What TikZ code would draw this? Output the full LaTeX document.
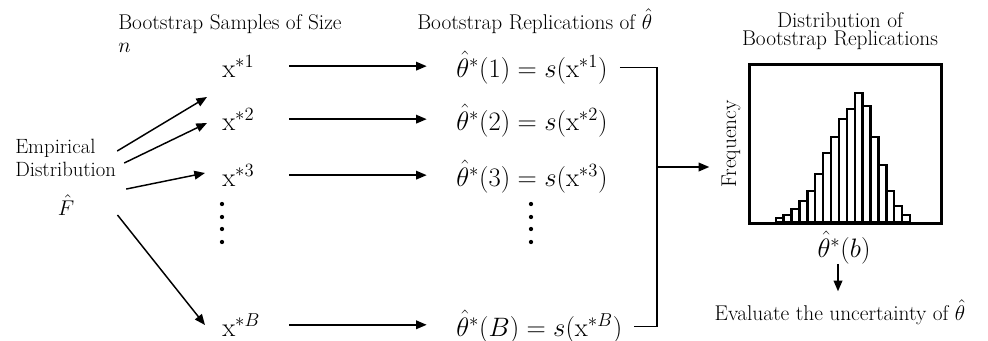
\RequirePackage{fix-cm}
\documentclass[tikz,border=0pt]{standalone}
\usepackage{fontspec}
\usetikzlibrary{arrows.meta}
\tikzset{
  txt/.style={inner sep=0pt, font=\fontsize{16}{17.25}\selectfont},
  eqn/.style={inner sep=0pt, font=\fontsize{20}{22}\selectfont},
  smp/.style={eqn, anchor=base west, text width=50pt, align=left},
  rep/.style={eqn, anchor=base west},
  link/.style={line width=1.1pt, -{Triangle[length=8pt,width=6.5pt]}},
  brk/.style={line width=1.1pt},
  bar/.style={line width=1.8pt},
}
\begin{document}
\begin{tikzpicture}[x=0.75pt,y=-0.75pt]
  \useasboundingbox (0,0) rectangle (988,340);
  % headings
  \node[txt, anchor=north west, align=left] (hdrS) at (118,14) {Bootstrap Samples of Size\\$n$};
  \node[txt, anchor=base west] (hdrR) at (417,29) {Bootstrap Replications of $\hat\theta$};
  \node[txt, font=\fontsize{16}{13.5}\selectfont, align=center] (hdrD) at (840,31) {Distribution of\\Bootstrap Replications};
  % empirical distribution
  \node[txt, font=\fontsize{15.5}{17.25}\selectfont, anchor=north west, align=left] (emp) at (15,139) {Empirical\\Distribution};
  \node[txt] (Fhat) at (66,205) {$\hat F$};
  % samples -> replications
  \foreach \k/\y in {1/77,2/130,3/186,B/336} {
    \node[smp] (s\k) at (222,\y) {$\mathrm{x}^{*\k}$};
    \node[rep] (r\k) at (456,\y) {$\hat\theta^*(\k) = s(\mathrm{x}^{*\k})$};
    \draw[link, shorten >=22pt] (s\k.east) -- (s\k.east -| r\k.west);
  }
  \foreach \y in {204,217,229,242} {
    \fill (222,\y) circle (1.6pt);
    \fill (531,\y) circle (1.6pt);
  }
  \draw[link] ([shift={(1,-7)}]emp.east) -- ([shift={(-15,20)}]s1.base west);
  \draw[link] ([shift={(8,5)}]emp.east) -- ([shift={(-15,-7)}]s2.base west);
  \draw[link] ([shift={(10,12)}]emp.south east) -- ([shift={(-17,-13)}]s3.base west);
  \draw[link] ([shift={(43,10)}]Fhat.east) -- ([shift={(-17,-11)}]sB.base west);
  % histogram
  \node[minimum width=143.25pt, minimum height=118.5pt, inner sep=0pt] (hist) at (845.5,144) {};
  \foreach \h [count=\i from 0] in {4,7.5,13,21,31,48,69,85,103,113,129,116,85,57,31,16,7}
    \draw[bar] ([shift={(26+7.9*\i,-1)}]hist.south west) rectangle ++(7.9,-\h);
  \draw[line width=2.5pt] (hist.south west) rectangle (hist.north east);
  \node[txt, rotate=90] (freq) at (731,144) {Frequency};
  \node[eqn, anchor=base] (thb) at (844,257) {$\hat\theta^*(b)$};
  \node[txt, anchor=base] (eval) at (840,320) {Evaluate the uncertainty of $\hat\theta$};
  \draw[link, shorten >=6pt] ([xshift=-4.5pt]thb.south) -- ([xshift=-4.5pt]thb.south |- eval.north);
  % collect replications
  \coordinate (jn) at (657,167);
  \draw[brk] ([xshift=9pt]r1.east) -| (jn) |- ([xshift=9pt]rB.east);
  \draw[link, shorten >=9pt] (jn) -- (jn -| freq.north);
\end{tikzpicture}
\end{document}
